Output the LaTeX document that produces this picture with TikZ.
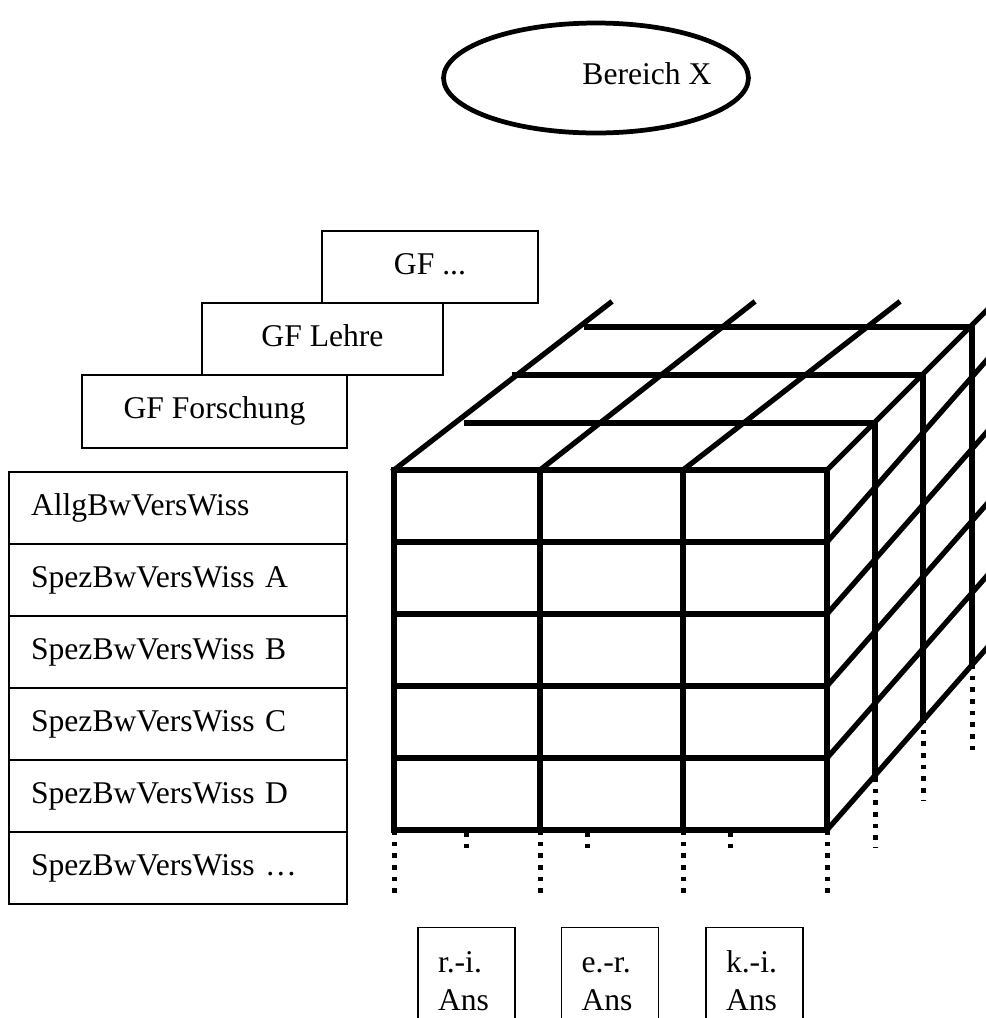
\documentclass[tikz,border=0pt]{standalone}
\usepackage{fontspec}
\setmainfont{Liberation Serif}
\usetikzlibrary{shapes.geometric}
\newcommand{\schrift}{\fontsize{18}{21.6}\selectfont}
\tikzset{kasten/.style={draw, line width=0.7pt, rectangle, inner sep=0pt, font=\schrift}}
\tikzset{zeile/.style={kasten, minimum width=6.76cm, minimum height=1.44cm, text width=5.88cm, align=left, text height=12.6pt, text depth=4.5pt}}
\tikzset{gf/.style={kasten, minimum height=1.44cm, text height=12.6pt, text depth=4.5pt}}
\tikzset{ansicht/.style={kasten, anchor=north, minimum width=1.94cm, text width=1.14cm, align=left, inner ysep=0.37cm}}
\tikzset{kante/.style={line width=0.105cm, line cap=rect}}
\tikzset{verdeckt/.style={line width=0.1cm, dash pattern=on 0.09cm off 0.144cm}}

\begin{document}
\begin{tikzpicture}[x=0.02cm, y=-0.02cm]
	% Ausschnitt
	\useasboundingbox (0,0) rectangle (986,1018);
	\clip (0,0) rectangle (986,1018);

	% Bereich
	\node[draw, ellipse, line width=2.7pt, minimum width=6.1cm, minimum height=2.2cm,
		label={[font=\schrift, xshift=1.02cm, yshift=0.08cm]center:Bereich X}] (bereich) at (596,78) {};

	% Geschaeftsfelder
	\node[gf, minimum width=4.32cm] (gf rest) at (430,267) {GF ...};
	\node[gf, minimum width=4.82cm] (gf lehre) at (322.5,339) {GF Lehre};
	\node[gf, minimum width=5.3cm, minimum height=1.46cm] (gf forschung) at (214.5,411.5) {GF Forschung};

	% Wissenschaften
	\node[zeile] (allg) at (178,508) {AllgBwVersWiss};
	\node[zeile] (spez a) at (178,580) {SpezBwVersWiss A};
	\node[zeile] (spez b) at (178,652) {SpezBwVersWiss B};
	\node[zeile] (spez c) at (178,724) {SpezBwVersWiss C};
	\node[zeile] (spez d) at (178,796) {SpezBwVersWiss D};
	\node[zeile] (spez rest) at (178,868) {SpezBwVersWiss …};

	% Ansichten
	\node[ansicht] (ans ri) at (466.5,927) {\strut r.-i.\\Ans};
	\node[ansicht] (ans er) at (610,927) {\strut e.-r.\\Ans};
	\node[ansicht] (ans ki) at (754.5,927) {\strut k.-i.\\Ans};

	% Vorderseite
	\coordinate (r0c0) at (394,470);	\coordinate (r0c1) at (540,470);	\coordinate (r0c2) at (683,470);	\coordinate (r0c3) at (827,470);
	\coordinate (r1c0) at (394,542);																			\coordinate (r1c3) at (827,542);
	\coordinate (r2c0) at (394,614);																			\coordinate (r2c3) at (827,614);
	\coordinate (r3c0) at (394,686);																			\coordinate (r3c3) at (827,686);
	\coordinate (r4c0) at (394,758);																			\coordinate (r4c3) at (827,758);
	\coordinate (r5c0) at (394,830);	\coordinate (r5c1) at (540,830);	\coordinate (r5c2) at (683,830);	\coordinate (r5c3) at (827,830);

	% Oberseite
	\coordinate (top c0) at (610,303);	\coordinate (top c1) at (753,303);	\coordinate (top c2) at (898,303);	\coordinate (top c3) at (994,303);
	\coordinate (back west1) at (467,423);	\coordinate (back east1) at (875,423);
	\coordinate (back west2) at (515,375);	\coordinate (back east2) at (923,375);
	\coordinate (back west3) at (587,327);	\coordinate (back east3) at (972,327);

	% Rechte Seite
	\coordinate (back south1) at (875,777);	\coordinate (back dots1) at (875,848);
	\coordinate (back south2) at (923,718);	\coordinate (back dots2) at (923,800);
	\coordinate (back south3) at (972,664);	\coordinate (back dots3) at (972,752);
	\coordinate (rhs r1) at (1000,345);
	\coordinate (rhs r2) at (1000,417);
	\coordinate (rhs r3) at (1000,489);
	\coordinate (rhs r4) at (1000,561);
	\coordinate (rhs r5) at (1000,633);

	% Unterkante
	\coordinate (dots c0) at (394,897);	\coordinate (dots c1) at (540,897);	\coordinate (dots c2) at (683,897);	\coordinate (dots c3) at (827,897);
	\coordinate (nub a) at (466,832);	\coordinate (nub a end) at (466,849);
	\coordinate (nub b) at (587,832);	\coordinate (nub b end) at (587,849);
	\coordinate (nub c) at (730,832);	\coordinate (nub c end) at (730,849);

	% Waagerechte
	\draw[kante] (r0c0) -- (r0c3);
	\draw[kante] (r1c0) -- (r1c3);
	\draw[kante] (r2c0) -- (r2c3);
	\draw[kante] (r3c0) -- (r3c3);
	\draw[kante] (r4c0) -- (r4c3);
	\draw[kante] (r5c0) -- (r5c3);

	\draw[kante] (back west1) -- (back east1);
	\draw[kante] (back west2) -- (back east2);
	\draw[kante] (back west3) -- (back east3);

	% Senkrechte
	\draw[kante] (r0c0) -- (r5c0);
	\draw[kante] (r0c1) -- (r5c1);
	\draw[kante] (r0c2) -- (r5c2);
	\draw[kante] (r0c3) -- (r5c3);

	\draw[kante] (back east1) -- (back south1);
	\draw[kante] (back east2) -- (back south2);
	\draw[kante] (back east3) -- (back south3);

	% Schraege
	\draw[kante] (r0c0) -- (top c0);
	\draw[kante] (r0c1) -- (top c1);
	\draw[kante] (r0c2) -- (top c2);
	\draw[kante] (r0c3) -- (top c3);

	\draw[kante] (r1c3) -- (rhs r1);
	\draw[kante] (r2c3) -- (rhs r2);
	\draw[kante] (r3c3) -- (rhs r3);
	\draw[kante] (r4c3) -- (rhs r4);
	\draw[kante] (r5c3) -- (rhs r5);

	% Verdeckte Kanten
	\draw[verdeckt] (r5c0) -- (dots c0);
	\draw[verdeckt] (r5c1) -- (dots c1);
	\draw[verdeckt] (r5c2) -- (dots c2);
	\draw[verdeckt] (r5c3) -- (dots c3);

	\draw[verdeckt] (back south1) -- (back dots1);
	\draw[verdeckt] (back south2) -- (back dots2);
	\draw[verdeckt] (back south3) -- (back dots3);

	\draw[verdeckt] (nub a) -- (nub a end);
	\draw[verdeckt] (nub b) -- (nub b end);
	\draw[verdeckt] (nub c) -- (nub c end);
\end{tikzpicture}
\end{document}
